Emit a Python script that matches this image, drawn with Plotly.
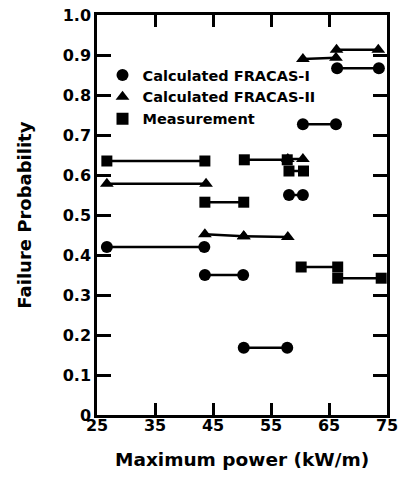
import plotly.graph_objects as go

# ---- data (segments: x start, x end, y start, y end) ----
f1_x0 = [26.7, 43.6, 50.3, 58.1, 60.5, 66.4]
f1_x1 = [43.5, 50.2, 57.8, 60.5, 66.2, 73.6]
f1_y0 = [0.420, 0.350, 0.168, 0.550, 0.727, 0.867]
f1_y1 = [0.420, 0.350, 0.168, 0.550, 0.727, 0.867]

f2_x0 = [26.7, 43.6, 50.3, 57.9, 60.5, 66.3]
f2_x1 = [43.8, 50.3, 57.9, 60.5, 66.2, 73.5]
f2_y0 = [0.578, 0.452, 0.447, 0.640, 0.890, 0.913]
f2_y1 = [0.578, 0.447, 0.445, 0.640, 0.893, 0.913]

m_x0 = [26.7, 43.6, 50.4, 58.1, 60.2, 66.5]
m_x1 = [43.6, 50.3, 57.8, 60.6, 66.5, 74.0]
m_y0 = [0.635, 0.532, 0.638, 0.610, 0.370, 0.342]
m_y1 = [0.635, 0.532, 0.638, 0.610, 0.370, 0.342]

series_names = ["Calculated FRACAS-I", "Calculated FRACAS-II", "Measurement"]
x_ticks = [25, 35, 45, 55, 65, 75]
y_ticks = [0, 0.1, 0.2, 0.3, 0.4, 0.5, 0.6, 0.7, 0.8, 0.9, 1.0]
y_tick_labels = ["0", "0.1", "0.2", "0.3", "0.4", "0.5", "0.6", "0.7", "0.8", "0.9", "1.0"]
x_title = "Maximum power (kW/m)"
y_title = "Failure Probability"


def seg_xy(x0, x1, y0, y1):
    xs, ys = [], []
    for a, b, c, d in zip(x0, x1, y0, y1):
        xs += [a, b, None]
        ys += [c, d, None]
    return xs, ys


FAM = "DejaVu Sans, Liberation Sans, Arial, sans-serif"
bold = dict(family=FAM, color="black", weight="bold")

fig = go.Figure()
specs = [
    (f1_x0, f1_x1, f1_y0, f1_y1, "circle", 12),
    (f2_x0, f2_x1, f2_y0, f2_y1, "triangle-up", 12),
    (m_x0, m_x1, m_y0, m_y1, "square", 11),
]
for (x0, x1, y0, y1, sym, sz), name in zip(specs, series_names):
    xs, ys = seg_xy(x0, x1, y0, y1)
    fig.add_trace(go.Scatter(
        x=xs, y=ys, mode="lines+markers", showlegend=False,
        line=dict(color="black", width=2.5),
        marker=dict(symbol=sym, size=sz, color="black"),
    ))
    fig.add_trace(go.Scatter(
        x=[None], y=[None], mode="markers", name=name,
        marker=dict(symbol=sym, size=sz, color="black"),
    ))

axis_common = dict(ticks="inside", tickwidth=2.5, tickcolor="black", showline=True,
                   linewidth=2.5, linecolor="black", mirror="allticks", showgrid=False,
                   zeroline=False, automargin=False)

fig.update_layout(
    width=402, height=477,
    margin=dict(l=97, r=15, t=15, b=62),
    plot_bgcolor="white", paper_bgcolor="white",
    font=bold,
    legend=dict(x=0.019, y=0.89, xanchor="left", yanchor="top",
                font=dict(size=14.5, **bold), bgcolor="rgba(0,0,0,0)",
                tracegroupgap=0, itemsizing="constant"),
    xaxis=dict(range=[25, 75], tickvals=x_ticks, ticklen=12, ticklabelstandoff=-6,
               tickfont=dict(size=16, **bold), **axis_common),
    yaxis=dict(range=[0, 1.0], tickvals=y_ticks, ticktext=y_tick_labels, ticklen=14,
               tickfont=dict(size=16, **bold), **axis_common),
    annotations=[
        dict(text=x_title, xref="paper", yref="paper", x=0.5, y=-0.112,
             xanchor="center", yanchor="middle", showarrow=False,
             font=dict(size=18.5, **bold)),
        dict(text=y_title, xref="paper", yref="paper", x=-0.253, y=0.5,
             xanchor="center", yanchor="middle", textangle=-90, showarrow=False,
             font=dict(size=18, **bold)),
    ],
)

fig.write_html("out.html", config={"displayModeBar": False},
               post_script="document.body.style.margin='0';document.body.style.padding='0';")
